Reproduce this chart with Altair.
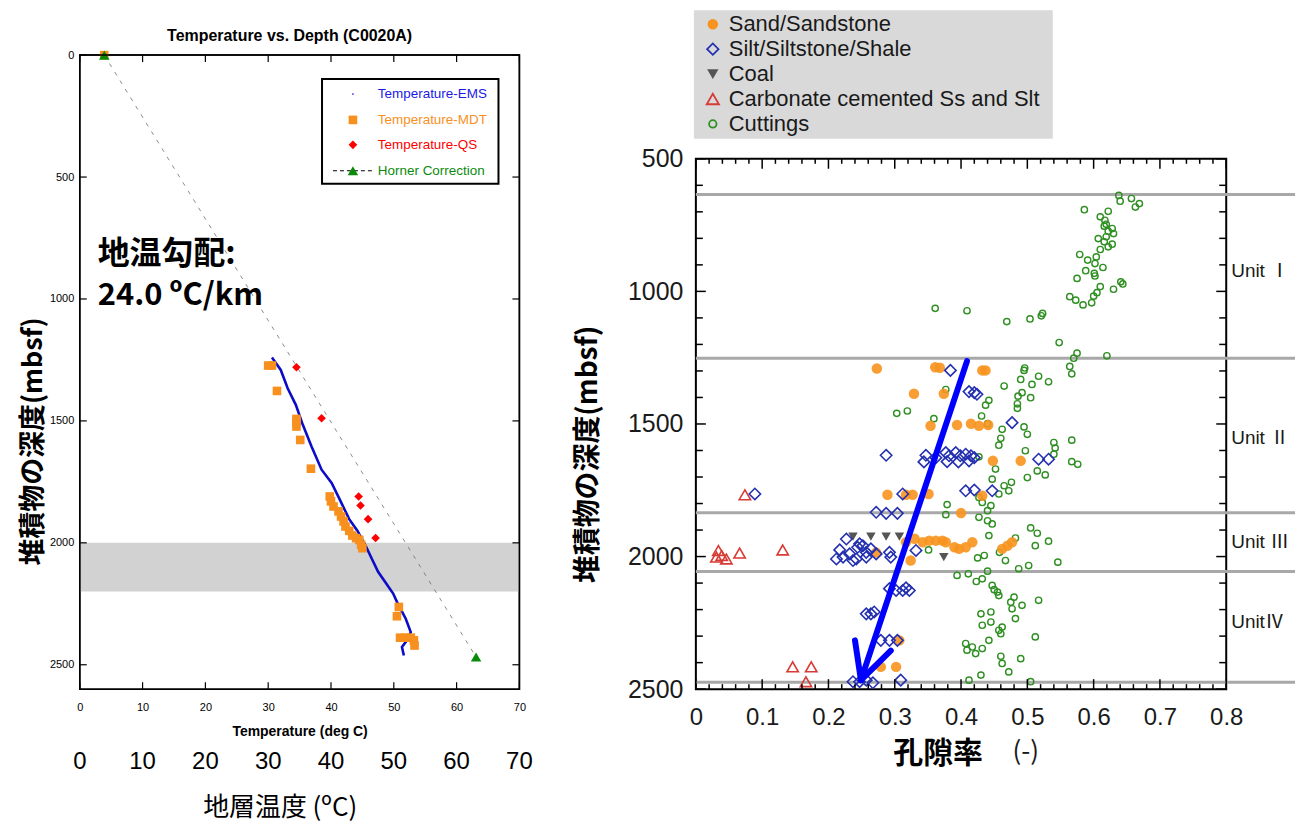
import altair as alt
import pandas as pd

# ======================= LEFT PANEL DATA (Temperature vs Depth) =======================
ems_temp = [30.6, 32.0, 33.1, 34.4, 35.5, 36.9, 38.5, 40.1, 41.5, 42.9, 44.2, 45.6,
            46.1, 47.5, 48.6, 49.9, 50.5, 51.9, 52.7, 52.1, 51.3, 51.6]
ems_depth = [1240, 1291, 1366, 1434, 1515, 1605, 1700, 1754, 1828, 1903, 1950, 2016,
             2044, 2119, 2160, 2208, 2242, 2311, 2366, 2400, 2427, 2462]
mdt_temp = [3.9, 30.0, 30.6, 31.4, 34.5, 34.5, 34.5, 35.1, 36.8, 39.8, 40.0, 40.4, 41.2,
            41.6, 42.0, 42.3, 42.9, 43.4, 44.0, 44.5, 44.8, 45.0, 50.8, 50.5, 51.0, 51.9,
            52.7, 53.2, 53.3]
mdt_depth = [0, 1273, 1273, 1377, 1492, 1505, 1523, 1578, 1696, 1810, 1830, 1851, 1871,
             1892, 1912, 1933, 1951, 1970, 1981, 1988, 2008, 2022, 2263, 2301, 2389, 2389,
             2389, 2400, 2421]
qs_temp = [34.5, 38.5, 44.4, 44.7, 45.9, 47.1]
qs_depth = [1280, 1489, 1810, 1847, 1903, 1980]
horner_temp = [3.9, 63.1]
horner_depth = [0, 2468]
band_depth = [2000, 2200]

left_x_ticks = [0, 10, 20, 30, 40, 50, 60, 70]
left_y_ticks = [0, 500, 1000, 1500, 2000, 2500]
big_x_labels = ["0", "10", "20", "30", "40", "50", "60", "70"]

left_title = "Temperature vs. Depth (C0020A)"
left_xtitle = "Temperature (deg C)"
left_ytitle = "堆積物の深度(mbsf)"
left_xtitle_jp = "地層温度 (ºC)"
gradient_text = ["地温勾配:", "24.0 ºC/km"]
left_legend = ["Temperature-EMS", "Temperature-MDT", "Temperature-QS", "Horner Correction"]

# ======================= RIGHT PANEL DATA (Porosity vs Depth) =======================
sand = [(0.273, 1291), (0.361, 1286), (0.368, 1288), (0.432, 1298), (0.437, 1298),
        (0.329, 1386), (0.374, 1386), (0.354, 1507), (0.394, 1504), (0.415, 1499),
        (0.427, 1507), (0.441, 1504), (0.448, 1639), (0.490, 1639), (0.289, 1767),
        (0.317, 1767), (0.327, 1767), (0.351, 1764), (0.432, 1771), (0.400, 1836),
        (0.342, 1946), (0.352, 1940), (0.362, 1940), (0.372, 1940), (0.377, 1946),
        (0.390, 1965), (0.397, 1971), (0.407, 1965), (0.417, 1946), (0.462, 1971),
        (0.470, 1959), (0.477, 1946), (0.317, 1946), (0.330, 1933), (0.324, 2015),
        (0.272, 1985), (0.307, 2316), (0.279, 2416), (0.302, 2416)]
silt = [(0.384, 1298), (0.412, 1378), (0.420, 1382), (0.424, 1388), (0.477, 1495),
        (0.287, 1618), (0.347, 1618), (0.344, 1643), (0.377, 1608), (0.382, 1620),
        (0.392, 1608), (0.399, 1620), (0.407, 1614), (0.415, 1620), (0.420, 1627),
        (0.379, 1642), (0.396, 1643), (0.412, 1639), (0.362, 1627), (0.517, 1633),
        (0.532, 1633), (0.089, 1764), (0.312, 1764), (0.407, 1752), (0.420, 1749),
        (0.447, 1752), (0.272, 1833), (0.287, 1837), (0.304, 1837),
        (0.227, 1934), (0.217, 1975), (0.212, 2009), (0.222, 2002), (0.232, 1990),
        (0.244, 1965), (0.252, 1959), (0.242, 2009), (0.257, 1984), (0.264, 1971),
        (0.272, 1990), (0.247, 1952), (0.292, 1984), (0.294, 2002), (0.332, 1977),
        (0.257, 2002), (0.237, 2015),
        (0.292, 2121), (0.302, 2128), (0.312, 2128), (0.322, 2128), (0.317, 2118),
        (0.257, 2216), (0.264, 2216), (0.269, 2209), (0.279, 2316), (0.292, 2316),
        (0.304, 2316), (0.237, 2472), (0.247, 2472), (0.257, 2466), (0.267, 2476),
        (0.309, 2466)]
coal = [(0.237, 1925), (0.264, 1925), (0.287, 1925), (0.307, 1925), (0.374, 2002)]
carbonate = [(0.074, 1767), (0.034, 1977), (0.039, 1996), (0.046, 2009), (0.031, 2002),
             (0.066, 1987), (0.131, 1975), (0.146, 2416), (0.174, 2416), (0.166, 2472)]
cuttings = [(0.638, 638), (0.640, 660), (0.657, 650), (0.669, 669), (0.663, 682),
            (0.586, 692), (0.622, 698), (0.610, 719), (0.617, 732), (0.619, 747),
            (0.616, 754), (0.628, 763), (0.622, 773), (0.630, 782), (0.607, 801),
            (0.619, 794), (0.616, 813), (0.628, 822), (0.622, 832), (0.610, 842),
            (0.579, 861), (0.604, 870), (0.591, 882), (0.602, 895), (0.614, 910),
            (0.588, 922), (0.601, 932), (0.602, 942), (0.575, 951), (0.641, 964),
            (0.644, 972), (0.610, 982), (0.630, 992), (0.605, 1005), (0.600, 1018),
            (0.564, 1020), (0.573, 1033), (0.584, 1051), (0.597, 1043), (0.361, 1064),
            (0.409, 1073), (0.469, 1114), (0.504, 1104), (0.521, 1092), (0.523, 1083),
            (0.548, 1193), (0.575, 1233), (0.570, 1252), (0.620, 1243), (0.564, 1283),
            (0.496, 1289), (0.567, 1311),
            (0.495, 1298), (0.517, 1320), (0.490, 1332), (0.507, 1351), (0.532, 1341),
            (0.465, 1357), (0.492, 1382), (0.486, 1395), (0.505, 1401), (0.485, 1424),
            (0.485, 1441), (0.442, 1411), (0.437, 1429), (0.377, 1370), (0.303, 1460),
            (0.319, 1451), (0.359, 1480), (0.431, 1470), (0.440, 1499), (0.462, 1520),
            (0.495, 1511), (0.500, 1539), (0.460, 1554), (0.457, 1580), (0.540, 1570),
            (0.542, 1591), (0.567, 1561), (0.497, 1601), (0.540, 1614), (0.567, 1642),
            (0.576, 1652), (0.427, 1624), (0.452, 1670), (0.500, 1702), (0.515, 1677),
            (0.527, 1692), (0.447, 1708), (0.465, 1733), (0.476, 1720), (0.472, 1752),
            (0.457, 1764), (0.427, 1777), (0.432, 1796), (0.445, 1808), (0.379, 1804),
            (0.377, 1842), (0.427, 1852), (0.440, 1827), (0.440, 1865), (0.447, 1877),
            (0.442, 1921), (0.505, 1892), (0.515, 1912), (0.532, 1942),
            (0.351, 1975), (0.482, 1930), (0.512, 1959), (0.546, 2021), (0.435, 1996),
            (0.425, 2005), (0.458, 1984), (0.467, 2015), (0.487, 2046), (0.502, 2034),
            (0.394, 2071), (0.411, 2065), (0.423, 2094), (0.432, 2084), (0.440, 2055),
            (0.447, 2109), (0.450, 2125), (0.455, 2134), (0.457, 2147), (0.475, 2172),
            (0.480, 2153), (0.477, 2197), (0.492, 2184), (0.517, 2165), (0.482, 2234),
            (0.430, 2216), (0.445, 2209), (0.432, 2259), (0.445, 2247), (0.457, 2278),
            (0.462, 2266), (0.460, 2291), (0.442, 2316), (0.407, 2328), (0.417, 2341),
            (0.422, 2366), (0.432, 2347), (0.409, 2353), (0.460, 2376), (0.462, 2403),
            (0.472, 2435), (0.490, 2385), (0.512, 2303), (0.412, 2466), (0.430, 2447),
            (0.505, 2472)]
unit_bounds = [635, 1252, 1835, 2056, 2474]
unit_labels = ["Unit Ⅰ", "Unit Ⅱ", "Unit Ⅲ", "UnitⅣ"]
unit_label_depth = [925, 1552, 1944, 2248]
# trend arrow (shaft + two head strokes): (por1, depth1, por2, depth2)
arrow = [(0.409, 1263, 0.249, 2466), (0.249, 2466, 0.240, 2316), (0.249, 2466, 0.294, 2355)]

right_x_ticks = [0, 0.1, 0.2, 0.3, 0.4, 0.5, 0.6, 0.7, 0.8]
right_y_ticks = [500, 1000, 1500, 2000, 2500]
right_x_minor = [round(i * 0.02, 2) for i in range(41)]
right_y_minor = list(range(500, 2501, 100))
right_ytitle = "堆積物の深度(mbsf)"
right_xtitle = ["孔隙率", "(-)"]
right_legend = ["Sand/Sandstone", "Silt/Siltstone/Shale", "Coal",
                "Carbonate cemented Ss and Slt", "Cuttings"]

# ======================= helpers =======================
LW = 441            # left plot width
LTOP = -104         # left frame top, relative to the shared row origin
LBOT = 532          # left frame bottom
RW, RH = 532, 532
SANS = "Liberation Sans"
CJK = "Noto Sans CJK JP"


def one(s):
    return pd.DataFrame({"t": [s]})


def label(s, x, y, **kw):
    return alt.Chart(one(s)).mark_text(**kw).encode(
        text="t:N", x=alt.value(x), y=alt.value(y))


# ======================= LEFT CHART =======================
lx_axis = alt.Axis(values=left_x_ticks, labelFontSize=11, labelPadding=12, ticks=False,
                   domain=False, grid=False, labelFlush=False, labelFont=SANS,
                   title=left_xtitle, titleFont=SANS, titleFontSize=14,
                   titleFontWeight="bold", titlePadding=12, labelColor="black",
                   titleColor="black")
ly_axis = alt.Axis(values=left_y_ticks, labelFontSize=11, labelPadding=6, ticks=False,
                   domain=False, grid=False, labelFlush=False, labelFont=SANS, format="d",
                   title=left_ytitle, titleFont=CJK, titleFontSize=27,
                   titleFontWeight="bold", titleX=-46, titleY=283,
                   titleBaseline="middle", labelColor="black", titleColor="black")
lx = alt.X("T:Q", scale=alt.Scale(domain=[0, 70], nice=False, zero=False), axis=lx_axis)
ly = alt.Y("D:Q", scale=alt.Scale(domain=[0, 2600], range=[LTOP, LBOT], nice=False,
                                  zero=False), axis=ly_axis)

frame = alt.Chart(one("")).mark_rect(fill="white", stroke="black", strokeWidth=1.5).encode(
    x=alt.value(0), x2=alt.value(LW), y=alt.value(LTOP), y2=alt.value(LBOT))
band = alt.Chart(pd.DataFrame({"D": [band_depth[0]], "D2": [band_depth[1]]})).mark_rect(
    color="#d2d2d2").encode(y=ly, y2="D2:Q", x=alt.value(1), x2=alt.value(LW - 1))
horner_line = alt.Chart(pd.DataFrame({"T": horner_temp, "D": horner_depth})).mark_line(
    color="#707070", strokeWidth=0.8, strokeDash=[4, 6]).encode(x=lx, y=ly, order="D:Q")
ems = alt.Chart(pd.DataFrame({"T": ems_temp, "D": ems_depth})).mark_line(
    color="#0c0cc8", strokeWidth=2.6).encode(x=lx, y=ly, order="D:Q")
mdt = alt.Chart(pd.DataFrame({"T": mdt_temp, "D": mdt_depth})).mark_point(
    shape="square", filled=True, color="#f7901e", size=75, opacity=1).encode(x=lx, y=ly)
qs = alt.Chart(pd.DataFrame({"T": qs_temp, "D": qs_depth})).mark_point(
    shape="diamond", filled=True, color="#ff0000", size=75, opacity=1).encode(x=lx, y=ly)
horner_pts = alt.Chart(pd.DataFrame({"T": horner_temp, "D": horner_depth})).mark_point(
    shape="triangle-up", filled=True, color="#0a8a0a", size=110, opacity=1).encode(x=lx, y=ly)
frame_line = alt.Chart(one("")).mark_rect(fill="transparent", stroke="black",
                                          strokeWidth=1.5).encode(
    x=alt.value(0), x2=alt.value(LW), y=alt.value(LTOP), y2=alt.value(LBOT))

lxt = pd.DataFrame({"T": left_x_ticks})
lyt = pd.DataFrame({"D": left_y_ticks})
lticks = [
    alt.Chart(lxt).mark_rule(color="black", strokeWidth=1.2).encode(
        x=lx, y=alt.value(LBOT), y2=alt.value(LBOT - 7)),
    alt.Chart(lxt).mark_rule(color="black", strokeWidth=1.2).encode(
        x=lx, y=alt.value(LTOP), y2=alt.value(LTOP + 7)),
    alt.Chart(lyt).mark_rule(color="black", strokeWidth=1.2).encode(
        y=ly, x=alt.value(0), x2=alt.value(7)),
    alt.Chart(lyt).mark_rule(color="black", strokeWidth=1.2).encode(
        y=ly, x=alt.value(LW), x2=alt.value(LW - 7)),
]

# legend box
leg_box = alt.Chart(one("")).mark_rect(fill="white", stroke="black", strokeWidth=2).encode(
    x=alt.value(243), x2=alt.value(420), y=alt.value(LTOP + 24), y2=alt.value(LTOP + 129))
leg_rows_y = [LTOP + 39, LTOP + 65, LTOP + 90, LTOP + 116]
leg_colors = ["#1a1ae6", "#f7901e", "#ff0000", "#0a8a0a"]
leg_shapes = ["circle", "square", "diamond", "triangle-up"]
leg_sizes = [3, 75, 75, 110]
leg_layers = [
    alt.Chart(one("")).mark_rule(color="black", strokeWidth=1, strokeDash=[4, 3]).encode(
        x=alt.value(254), x2=alt.value(294), y=alt.value(leg_rows_y[3]))
]
for name, yy, col, shp, sz in zip(left_legend, leg_rows_y, leg_colors, leg_shapes, leg_sizes):
    leg_layers.append(alt.Chart(one(name)).mark_point(
        shape=shp, filled=True, color=col, size=sz, opacity=1).encode(
        x=alt.value(274), y=alt.value(yy)))
    leg_layers.append(label(name, 299, yy, align="left", baseline="middle",
                            fontSize=13.5, font=SANS, color=col))

left_texts = [
    label(left_title, LW / 2 - 10, LTOP - 19, align="center", baseline="middle",
          fontSize=16, fontWeight="bold", font=SANS, color="black"),
    label(gradient_text[0], 18, LTOP + 200, align="left", baseline="middle", fontSize=32,
          fontWeight="bold", font=CJK, color="black"),
    label(gradient_text[1], 18, LTOP + 242, align="left", baseline="middle", fontSize=31,
          fontWeight="bold", font=CJK, color="black"),
    alt.Chart(pd.DataFrame({"T": left_x_ticks, "lab": big_x_labels})).mark_text(
        align="center", baseline="middle", fontSize=24, font=SANS, color="black").encode(
        x=lx, y=alt.value(LBOT + 73), text="lab:N"),
    label(left_xtitle_jp, 201, LBOT + 119, align="center", baseline="middle", fontSize=26,
          font=CJK, color="black"),
    # white anchor fixing the outer bounds of this panel
    alt.Chart(one("")).mark_rule(color="white", strokeWidth=1).encode(
        x=alt.value(-71), x2=alt.value(460), y=alt.value(LTOP - 45)),
]

left = alt.layer(frame, band, horner_line, ems, mdt, qs, horner_pts, frame_line, *lticks,
                 leg_box, *leg_layers, *left_texts).properties(
    width=LW, height=LBOT, view=alt.ViewBackground(strokeWidth=0, stroke="transparent"))

# ======================= RIGHT CHART =======================
rx_axis = alt.Axis(values=right_x_ticks, labelFontSize=24, labelPadding=16, ticks=False,
                   domain=False, grid=False, labelFlush=False, labelFont=SANS,
                   labelExpr="datum.value == 0 ? '0' : format(datum.value, '.1f')",
                   labelColor="#1a1a1a", title=None)
ry_axis = alt.Axis(values=right_y_ticks, labelFontSize=25, labelPadding=13, ticks=False,
                   domain=False, grid=False, labelFlush=False, labelFont=SANS, format="d",
                   labelColor="#1a1a1a", title=right_ytitle, titleFont=CJK,
                   titleFontSize=28, titleFontWeight="bold", titleX=-108, titleY=296,
                   titleBaseline="middle", titleColor="black")
rx = alt.X("P:Q", scale=alt.Scale(domain=[0, 0.8], nice=False, zero=False), axis=rx_axis)
ry = alt.Y("D:Q", scale=alt.Scale(domain=[500, 2500], reverse=True, nice=False, zero=False),
           axis=ry_axis)


def pts(pairs):
    return pd.DataFrame({"P": [p for p, d in pairs], "D": [d for p, d in pairs]})


unit_lines = alt.Chart(pd.DataFrame({"D": unit_bounds})).mark_rule(
    color="#a8a8a8", strokeWidth=3).encode(y=ry, x=alt.value(0), x2=alt.value(601))
unit_text = alt.Chart(pd.DataFrame({"D": unit_label_depth, "lab": unit_labels})).mark_text(
    align="left", baseline="middle", fontSize=19, font=SANS + ", " + CJK,
    color="#1a1a1a").encode(y=ry, x=alt.value(537), text="lab:N")

c_cut = alt.Chart(pts(cuttings)).mark_point(
    shape="circle", filled=False, color="#2f8f22", size=40, strokeWidth=1.4,
    opacity=1).encode(x=rx, y=ry)
c_sand = alt.Chart(pts(sand)).mark_point(
    shape="circle", filled=True, color="#f7931e", size=110, opacity=0.9).encode(x=rx, y=ry)
c_coal = alt.Chart(pts(coal)).mark_point(
    shape="triangle-down", filled=True, color="#555555", size=90, opacity=1).encode(x=rx, y=ry)
c_silt = alt.Chart(pts(silt)).mark_point(
    shape="diamond", filled=False, color="#2430b0", size=130, strokeWidth=1.6,
    opacity=1).encode(x=rx, y=ry)
c_carb = alt.Chart(pts(carbonate)).mark_point(
    shape="triangle-up", filled=False, color="#d83a34", size=130, strokeWidth=1.6,
    opacity=1).encode(x=rx, y=ry)

arrow_df = pd.DataFrame({"P": [a[0] for a in arrow], "D": [a[1] for a in arrow],
                         "P2": [a[2] for a in arrow], "D2": [a[3] for a in arrow]})
c_arrow = alt.Chart(arrow_df).mark_rule(color="#0000ff", strokeWidth=6,
                                        strokeCap="round").encode(
    x=rx, y=ry, x2="P2:Q", y2="D2:Q")

rxt = pd.DataFrame({"P": right_x_minor,
                    "L": [10 if abs(v * 10 - round(v * 10)) < 1e-6 else 5 for v in right_x_minor]})
ryt = pd.DataFrame({"D": right_y_minor,
                    "L": [10 if v % 500 == 0 else 7 for v in right_y_minor]})
rticks = []
for long_ in (True, False):
    sx = rxt[(rxt.L == 10) == long_]
    sy = ryt[(ryt.L == 10) == long_]
    n = 10 if long_ else 5
    ny = 10 if long_ else 7
    rticks += [
        alt.Chart(sx).mark_rule(color="black", strokeWidth=1.5).encode(
            x=rx, y=alt.value(RH), y2=alt.value(RH - n)),
        alt.Chart(sx).mark_rule(color="black", strokeWidth=1.5).encode(
            x=rx, y=alt.value(0), y2=alt.value(n)),
        alt.Chart(sy).mark_rule(color="black", strokeWidth=1.5).encode(
            y=ry, x=alt.value(0), x2=alt.value(ny)),
        alt.Chart(sy).mark_rule(color="black", strokeWidth=1.5).encode(
            y=ry, x=alt.value(RW), x2=alt.value(RW - ny)),
    ]

r_leg_box = alt.Chart(one("")).mark_rect(fill="#d9d9d9").encode(
    x=alt.value(-2), x2=alt.value(358), y=alt.value(-149), y2=alt.value(-20))
r_rows_y = [-135, -110, -85, -60, -35]
r_shapes = ["circle", "diamond", "triangle-down", "triangle-up", "circle"]
r_filled = [True, False, True, False, False]
r_colors = ["#f7931e", "#2430b0", "#555555", "#d83a34", "#2f8f22"]
r_sizes = [110, 130, 130, 150, 55]
r_leg = [r_leg_box]
for name, yy, shp, fl, col, sz in zip(right_legend, r_rows_y, r_shapes, r_filled,
                                      r_colors, r_sizes):
    r_leg.append(alt.Chart(one(name)).mark_point(
        shape=shp, filled=fl, color=col, size=sz, strokeWidth=1.8, opacity=1).encode(
        x=alt.value(17), y=alt.value(yy)))
    r_leg.append(label(name, 33, yy, align="left", baseline="middle", fontSize=22,
                       font=SANS, color="#1a1a1a"))

right_texts = [
    label(right_xtitle[0], 243, 597, align="center", baseline="middle", fontSize=30,
          fontWeight="bold", font=CJK, color="black"),
    label(right_xtitle[1], 331, 595, align="center", baseline="middle", fontSize=26,
          font=CJK, color="#1a1a1a"),
    alt.Chart(one("")).mark_rule(color="white", strokeWidth=1).encode(
        x=alt.value(-125), x2=alt.value(-124), y=alt.value(300)),
]

right = alt.layer(unit_lines, c_cut, c_sand, c_coal, c_silt, c_carb, c_arrow, *rticks,
                  unit_text, *r_leg, *right_texts).properties(
    width=RW, height=RH, view=alt.ViewBackground(stroke="black", strokeWidth=2))

chart = alt.concat(left, right, columns=2, align="none", spacing=30,
                   padding=0).configure(font=SANS)
chart.save("out.html", embed_options={"renderer": "svg", "actions": False})
